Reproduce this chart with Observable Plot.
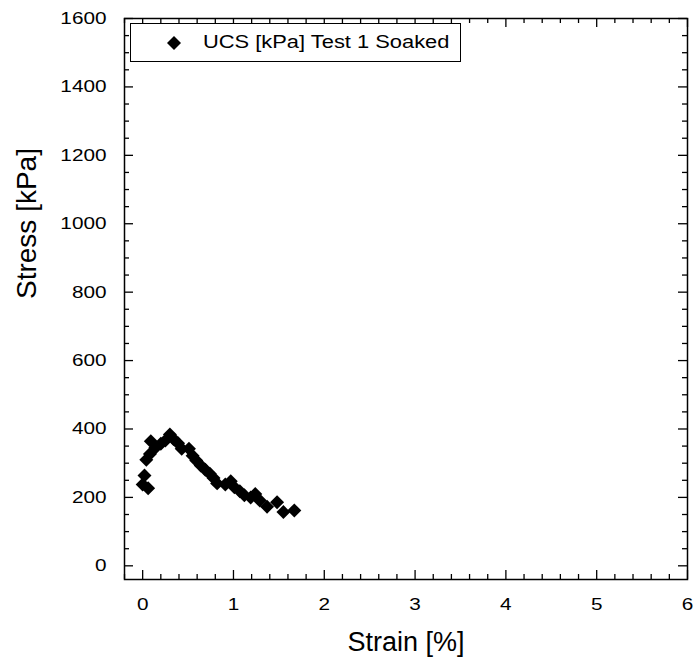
<!DOCTYPE html>
<html>
<head>
<meta charset="utf-8">
<script src="https://cdn.jsdelivr.net/npm/d3@7"></script>
<script src="https://cdn.jsdelivr.net/npm/@observablehq/plot@0.6"></script>
<style>
  html, body { margin: 0; padding: 0; background: #fff; }
  #wrap { position: relative; width: 696px; height: 662px; font-family: "Liberation Sans", Arial, sans-serif; }
  #legend { position: absolute; left: 130px; top: 23px; width: 331px; height: 39px; border: 1px solid #000; background: #fff; box-sizing: border-box; }
  #legend svg { position: absolute; left: 35px; top: 11px; }
  #legend span { position: absolute; left: 72px; top: 8px; font-size: 17.5px; white-space: nowrap; transform: scaleX(1.25); transform-origin: left center; color: #000; }
</style>
</head>
<body>
<div id="wrap"></div>
<script>
// Data
const seriesName = "UCS [kPa] Test 1 Soaked";
const strain = [0.00, 0.06, 0.02, 0.04, 0.08, 0.09, 0.14, 0.20, 0.25, 0.30, 0.34, 0.39, 0.43, 0.51, 0.55, 0.59, 0.64, 0.69, 0.74, 0.78, 0.82, 0.91, 0.97, 1.01, 1.07, 1.12, 1.19, 1.24, 1.29, 1.37, 1.48, 1.55, 1.67];
const stress = [238, 227, 264, 310, 327, 364, 345, 357, 366, 384, 371, 358, 342, 342, 322, 308, 293, 281, 269, 257, 241, 238, 247, 230, 218, 206, 200, 210, 191, 173, 186, 157, 162];
const xMajor = [0, 1, 2, 3, 4, 5, 6];
const xMinor = [-0.2, 0.2, 0.4, 0.6, 0.8, 1.2, 1.4, 1.6, 1.8, 2.2, 2.4, 2.6, 2.8, 3.2, 3.4, 3.6, 3.8, 4.2, 4.4, 4.6, 4.8, 5.2, 5.4, 5.6, 5.8];
const yMajor = [0, 200, 400, 600, 800, 1000, 1200, 1400, 1600];
const yMinor = [50, 100, 150, 250, 300, 350, 450, 500, 550, 650, 700, 750, 850, 900, 950, 1050, 1100, 1150, 1250, 1300, 1350, 1450, 1500, 1550];
const xLabel = "Strain [%]";
const yLabel = "Stress [kPa]";

const data = strain.map((s, i) => ({strain: s, stress: stress[i]}));

const W = 696, H = 662;
const mL = 124, mR = 9, mT = 18, mB = 83;
const fw = W - mL - mR, fh = H - mT - mB;
const majLen = 9, minLen = 5;

const chart = Plot.plot({
  width: W,
  height: H,
  marginLeft: mL,
  marginRight: mR,
  marginTop: mT,
  marginBottom: mB,
  style: {fontFamily: "'Liberation Sans', Arial, sans-serif", color: "#000", background: "#fff"},
  x: {domain: [-0.2, 6], axis: null},
  y: {domain: [-40, 1600], axis: null},
  marks: [
    // bottom / top ticks (inward)
    Plot.ruleX(xMajor, {x: d => d, insetTop: fh - majLen, stroke: "#000", strokeWidth: 1.3}),
    Plot.ruleX(xMinor, {x: d => d, insetTop: fh - minLen, stroke: "#000", strokeWidth: 1.3}),
    Plot.ruleX(xMajor, {x: d => d, insetBottom: fh - majLen, stroke: "#000", strokeWidth: 1.3}),
    Plot.ruleX(xMinor, {x: d => d, insetBottom: fh - minLen, stroke: "#000", strokeWidth: 1.3}),
    // left / right ticks (inward)
    Plot.ruleY(yMajor, {y: d => d, insetRight: fw - majLen, stroke: "#000", strokeWidth: 1.3}),
    Plot.ruleY(yMinor, {y: d => d, insetRight: fw - minLen, stroke: "#000", strokeWidth: 1.3}),
    Plot.ruleY(yMajor, {y: d => d, insetLeft: fw - majLen, stroke: "#000", strokeWidth: 1.3}),
    Plot.ruleY(yMinor, {y: d => d, insetLeft: fw - minLen, stroke: "#000", strokeWidth: 1.3}),
    // tick labels
    Plot.axisX(xMajor, {anchor: "bottom", tickSize: 0, tickPadding: 18, fontSize: 17, label: null, tickFormat: d => String(d)}),
    Plot.axisY(yMajor, {anchor: "left", tickSize: 0, tickPadding: 18, fontSize: 17, label: null, tickFormat: d => String(d)}),
    // data
    Plot.dot(data, {x: "strain", y: "stress", symbol: "diamond2", r: 6.3, fill: "#000", stroke: "none"}),
    Plot.frame({stroke: "#000", strokeWidth: 1.5}),
    // axis titles
    Plot.text([xLabel], {frameAnchor: "bottom", dy: 63, lineAnchor: "middle", fontSize: 27, fill: "#000", className: "xlab"}),
    Plot.text([yLabel], {frameAnchor: "left", dx: -97, rotate: -90, lineAnchor: "middle", fontSize: 28, fill: "#000", className: "ylab"})
  ]
});

const wrap = document.getElementById("wrap");
wrap.appendChild(chart);

// horizontal stretching of the tick labels, as in the reference rendering
chart.querySelectorAll("text").forEach(t => {
  if (t.closest(".ylab") || t.closest(".xlab")) return;
  const w = t.getComputedTextLength();
  if (w > 0) {
    t.setAttribute("textLength", (w * 1.22).toFixed(2));
    t.setAttribute("lengthAdjust", "spacingAndGlyphs");
  }
});

// legend
const legend = document.createElement("div");
legend.id = "legend";
legend.innerHTML = '<svg width="16" height="16" viewBox="-8 -8 16 16"><polygon points="0,-7 7,0 0,7 -7,0" fill="#000"/></svg><span></span>';
legend.querySelector("span").textContent = seriesName;
wrap.appendChild(legend);
</script>
</body>
</html>
